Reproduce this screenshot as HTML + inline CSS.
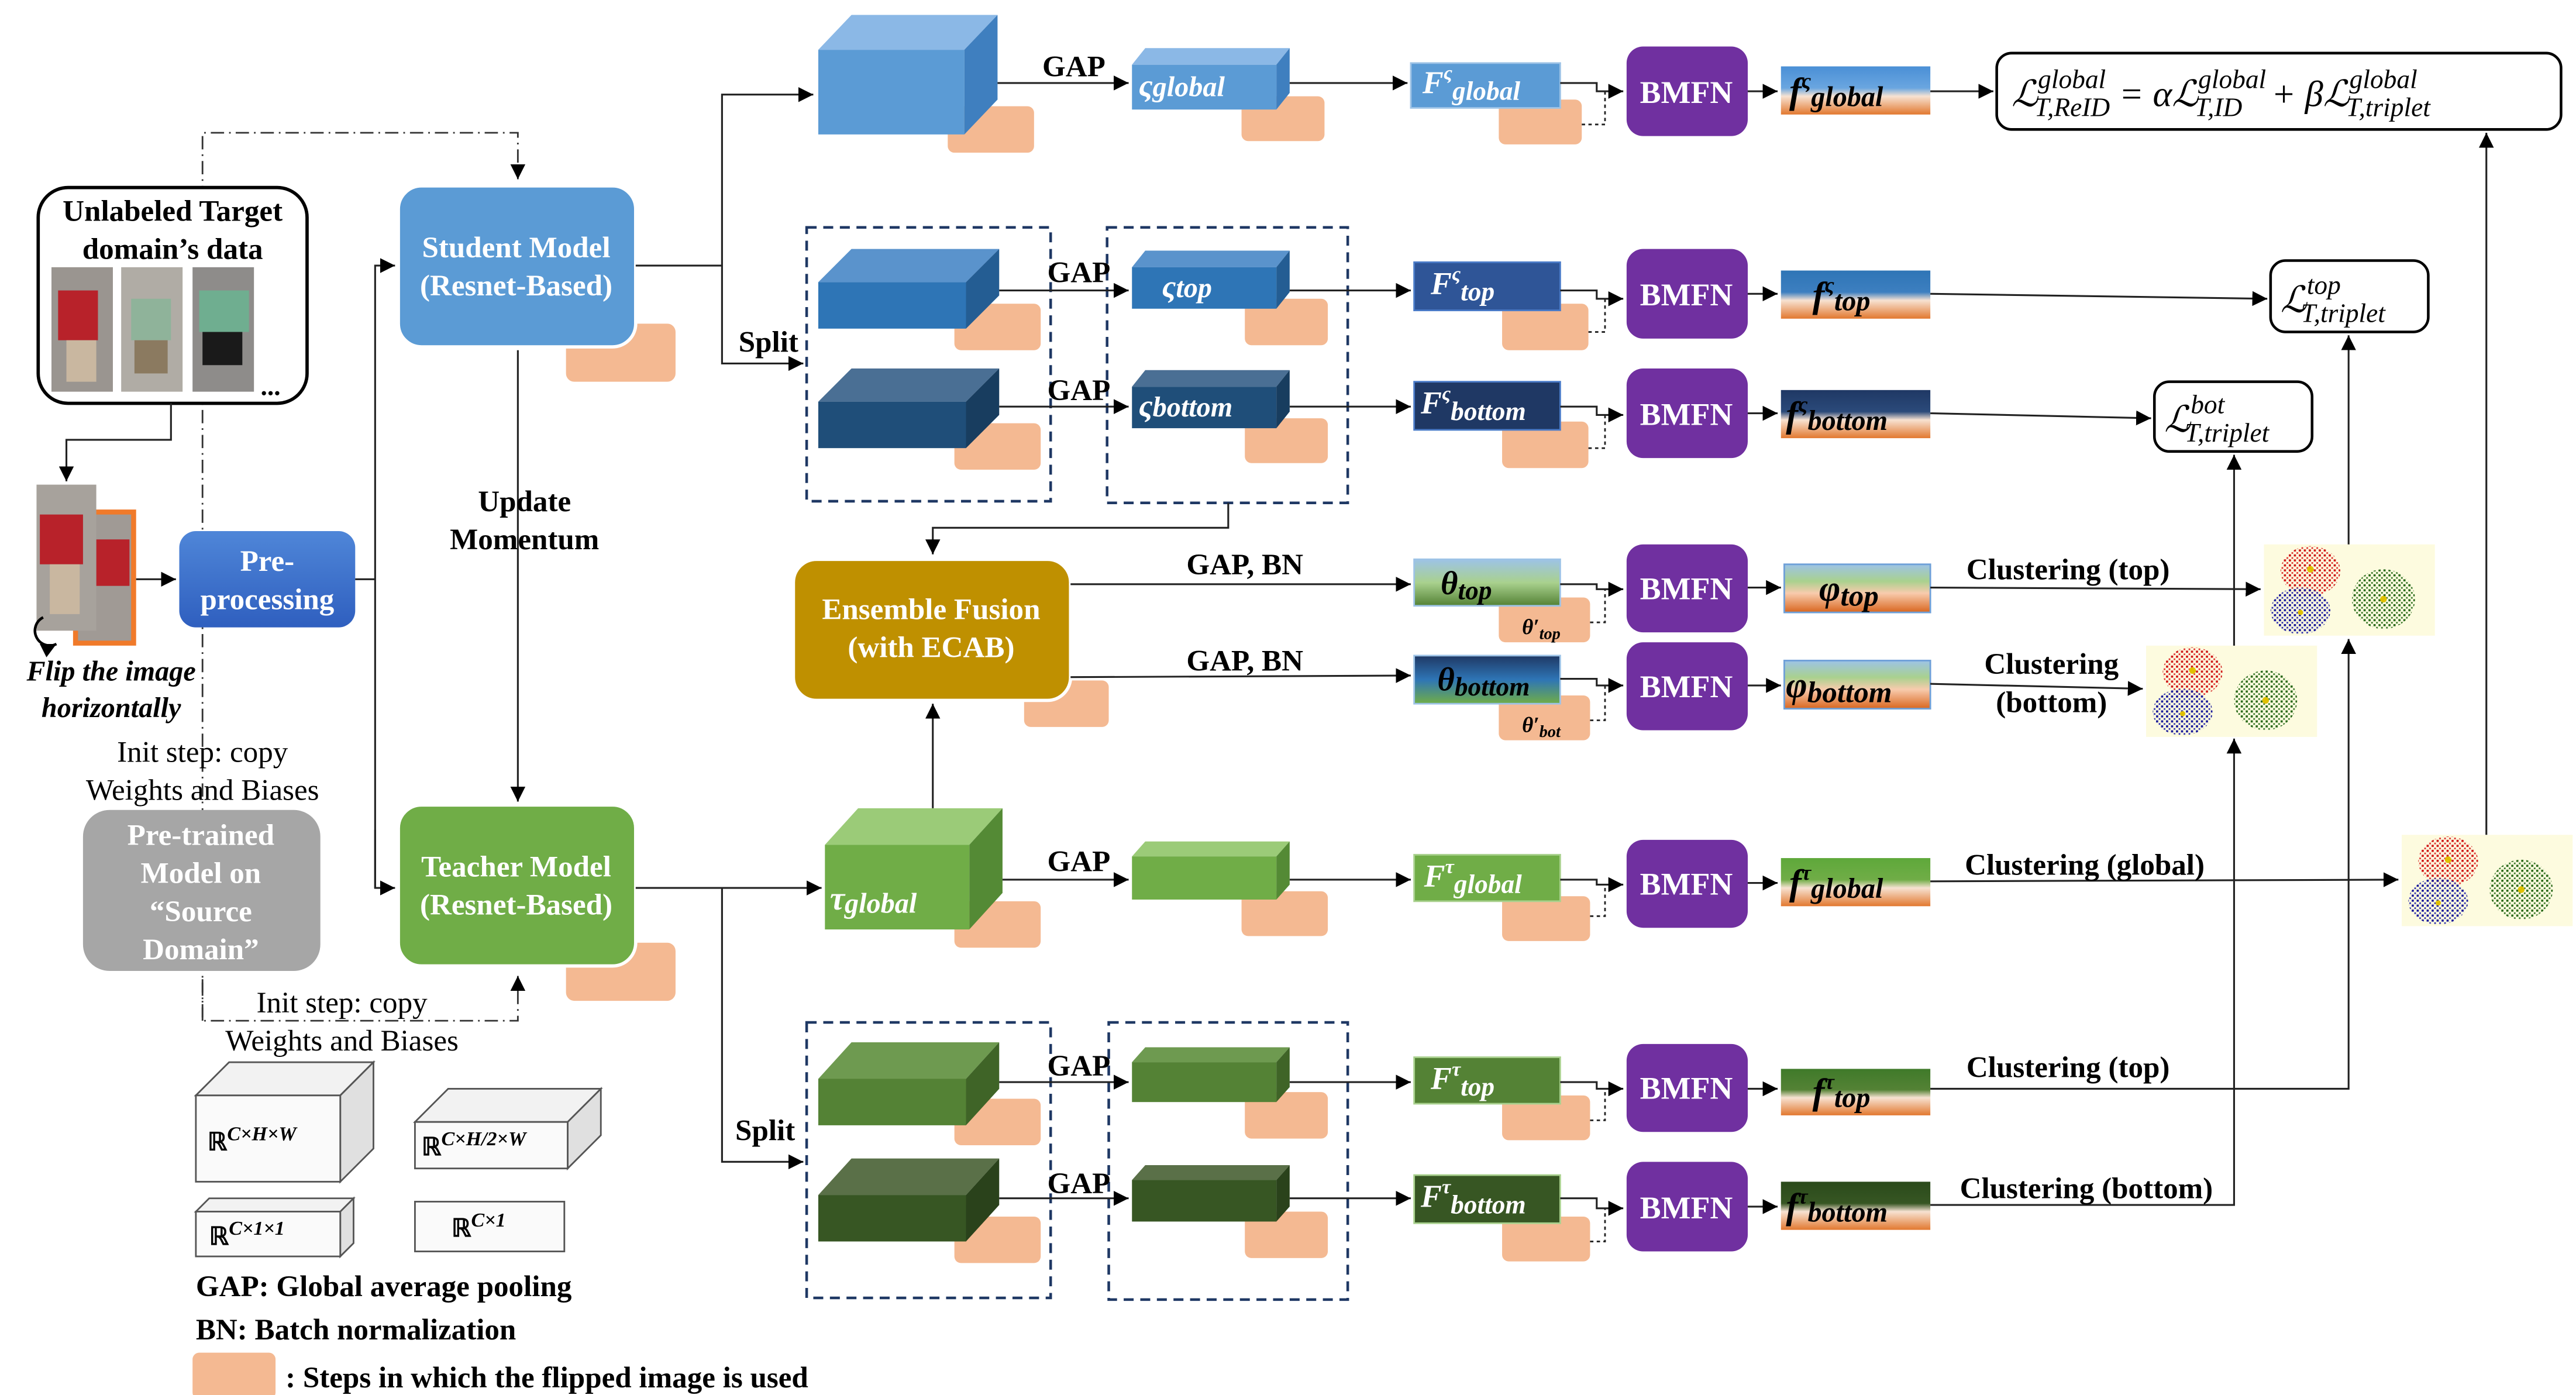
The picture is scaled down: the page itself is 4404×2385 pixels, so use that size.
<!DOCTYPE html>
<html><head><meta charset="utf-8"><style>
html,body{margin:0;padding:0;background:#fff;}
svg{display:block;}
text{font-family:"Liberation Serif",serif;}
.b{font-weight:bold;}
.w{fill:#fff;}
.m{font-style:italic;font-weight:bold;}
.ln{stroke:#222;stroke-width:1.1;fill:none;}
.dsh{stroke:#1f3864;stroke-width:1.6;fill:none;stroke-dasharray:6,4;}
.or{fill:#f4b992;}
</style></head><body>
<svg width="4404" height="2385" viewBox="0 0 1552 840.5" xmlns="http://www.w3.org/2000/svg">
<defs>
<marker id="a" viewBox="0 0 10 10" refX="10" refY="5" markerWidth="9" markerHeight="9" markerUnits="userSpaceOnUse" orient="auto"><path d="M0,0L10,5L0,10z" fill="#000"/></marker>
<linearGradient id="gB" x1="0" y1="0" x2="0" y2="1"><stop offset="0" stop-color="#4a8fd6"/><stop offset="0.45" stop-color="#6aa6e0"/><stop offset="0.62" stop-color="#f7e2d2"/><stop offset="1" stop-color="#e2782f"/></linearGradient>
<linearGradient id="gB2" x1="0" y1="0" x2="0" y2="1"><stop offset="0" stop-color="#2e75b6"/><stop offset="0.45" stop-color="#3d7fc0"/><stop offset="0.62" stop-color="#f7e2d2"/><stop offset="1" stop-color="#e2782f"/></linearGradient>
<linearGradient id="gB3" x1="0" y1="0" x2="0" y2="1"><stop offset="0" stop-color="#1f3864"/><stop offset="0.45" stop-color="#2b4a7a"/><stop offset="0.62" stop-color="#f7e2d2"/><stop offset="1" stop-color="#e2782f"/></linearGradient>
<linearGradient id="gG" x1="0" y1="0" x2="0" y2="1"><stop offset="0" stop-color="#5ea83a"/><stop offset="0.45" stop-color="#70ad47"/><stop offset="0.62" stop-color="#f7e2d2"/><stop offset="1" stop-color="#e2782f"/></linearGradient>
<linearGradient id="gG2" x1="0" y1="0" x2="0" y2="1"><stop offset="0" stop-color="#3f7a2a"/><stop offset="0.45" stop-color="#548235"/><stop offset="0.62" stop-color="#f7e2d2"/><stop offset="1" stop-color="#e2782f"/></linearGradient>
<linearGradient id="gG3" x1="0" y1="0" x2="0" y2="1"><stop offset="0" stop-color="#2a4a1b"/><stop offset="0.45" stop-color="#375623"/><stop offset="0.62" stop-color="#f7e2d2"/><stop offset="1" stop-color="#e2782f"/></linearGradient>
<linearGradient id="gP" x1="0" y1="0" x2="0" y2="1"><stop offset="0" stop-color="#9dc3e6"/><stop offset="0.35" stop-color="#a9d18e"/><stop offset="0.6" stop-color="#f8cbad"/><stop offset="1" stop-color="#d9661f"/></linearGradient>
<linearGradient id="gT1" x1="0" y1="0" x2="0" y2="1"><stop offset="0" stop-color="#9dc3e6"/><stop offset="0.5" stop-color="#a9d18e"/><stop offset="1" stop-color="#548235"/></linearGradient>
<linearGradient id="gT2" x1="0" y1="0" x2="0" y2="1"><stop offset="0" stop-color="#1f3864"/><stop offset="0.5" stop-color="#2e75b6"/><stop offset="1" stop-color="#70ad47"/></linearGradient>
<linearGradient id="gPre" x1="0" y1="0" x2="0" y2="1"><stop offset="0" stop-color="#4f86d8"/><stop offset="1" stop-color="#2f5fbf"/></linearGradient>
<pattern id="pr" width="3" height="3" patternUnits="userSpaceOnUse"><rect x="0" y="0" width="1.3" height="1.3" fill="#d01818"/><rect x="1.6" y="1.7" width="1" height="1" fill="#e03030"/></pattern>
<pattern id="pb" width="3" height="3" patternUnits="userSpaceOnUse"><rect x="0" y="0" width="1.3" height="1.3" fill="#1a1a9a"/><rect x="1.6" y="1.7" width="1" height="1" fill="#3030b0"/></pattern>
<pattern id="pg" width="3" height="3" patternUnits="userSpaceOnUse"><rect x="0" y="0" width="1.3" height="1.3" fill="#2a6a1a"/><rect x="1.6" y="1.7" width="1" height="1" fill="#3a7a2a"/></pattern>
<g id="sc">
<rect x="0" y="0" width="103" height="55" fill="#fdfbdf"/>
<ellipse cx="28" cy="16" rx="18" ry="15" fill="url(#pr)"/>
<ellipse cx="22" cy="40" rx="18" ry="14" fill="url(#pb)"/>
<ellipse cx="72" cy="33" rx="19" ry="18" fill="url(#pg)"/>
<circle cx="28" cy="15" r="2" fill="#e0c000"/><circle cx="72" cy="33" r="2" fill="#e0c000"/><circle cx="22" cy="41" r="1.6" fill="#e0c000"/>
</g>
</defs>

<path d="M122,615 L122,80 L312,80 L312,108" stroke="#333" stroke-width="1" fill="none" stroke-dasharray="8,3,1,3" marker-end="url(#a)"/>
<path d="M122,590 L122,615 L312,615 L312,588" stroke="#333" stroke-width="1" fill="none" stroke-dasharray="8,3,1,3" marker-end="url(#a)"/>

<rect x="23" y="113" width="162" height="130" rx="18" fill="#fff" stroke="#000" stroke-width="2"/>
<text x="104" y="133" font-size="18" class="b" text-anchor="middle">Unlabeled Target</text>
<text x="104" y="156" font-size="18" class="b" text-anchor="middle">domain’s data</text>
<rect x="31" y="161" width="37" height="75" fill="#9a9590"/><rect x="35" y="175" width="24" height="30" fill="#b8222a"/><rect x="40" y="205" width="18" height="25" fill="#c9b7a0"/>
<rect x="73" y="161" width="37" height="75" fill="#b0aca5"/><rect x="79" y="180" width="24" height="25" fill="#8fb39a"/><rect x="81" y="205" width="20" height="20" fill="#8b7a60"/>
<rect x="116" y="161" width="37" height="75" fill="#8e8c8a"/><rect x="120" y="175" width="30" height="25" fill="#6fae90"/><rect x="122" y="200" width="24" height="20" fill="#1a1a1a"/>
<text x="163" y="238" font-size="16" class="b" text-anchor="middle">...</text>
<path d="M103,243 L103,265 L40,265 L40,290" class="ln" marker-end="url(#a)"/>

<rect x="44" y="307" width="38" height="82" fill="#f07a2a"/>
<rect x="47" y="310" width="32" height="76" fill="#a09a95"/><rect x="58" y="325" width="20" height="28" fill="#b8222a"/>
<rect x="22" y="292" width="36" height="88" fill="#a7a29c"/><rect x="24" y="310" width="26" height="30" fill="#b8222a"/><rect x="30" y="340" width="18" height="30" fill="#c9b7a0"/>
<path d="M26,372 A7,7 0 1 0 34,388" stroke="#000" stroke-width="1.6" fill="none" marker-end="url(#a)"/>
<text x="67" y="410" font-size="17" class="b" font-style="italic" text-anchor="middle">Flip the image</text>
<text x="67" y="432" font-size="17" class="b" font-style="italic" text-anchor="middle">horizontally</text>
<path d="M82,349 L106,349" class="ln" marker-end="url(#a)"/>

<rect x="108" y="320" width="106" height="58" rx="10" fill="url(#gPre)"/>
<text x="161" y="344" font-size="18" class="b w" text-anchor="middle">Pre-</text>
<text x="161" y="367" font-size="18" class="b w" text-anchor="middle">processing</text>
<path d="M214,349 L226,349" class="ln"/>
<path d="M226,535 L226,160 L238,160" class="ln" marker-end="url(#a)"/>
<path d="M226,500 L226,535 L238,535" class="ln" marker-end="url(#a)"/>

<text x="122" y="459" font-size="18" text-anchor="middle">Init step: copy</text>
<text x="122" y="482" font-size="18" text-anchor="middle">Weights and Biases</text>

<rect x="50" y="488" width="143" height="97" rx="16" fill="#a6a6a6"/>
<text x="121" y="509" font-size="18" class="b w" text-anchor="middle">Pre-trained</text>
<text x="121" y="532" font-size="18" class="b w" text-anchor="middle">Model on</text>
<text x="121" y="555" font-size="18" class="b w" text-anchor="middle">“Source</text>
<text x="121" y="578" font-size="18" class="b w" text-anchor="middle">Domain”</text>
<text x="206" y="610" font-size="18" text-anchor="middle">Init step: copy</text>
<text x="206" y="633" font-size="18" text-anchor="middle">Weights and Biases</text>

<rect x="341" y="195" width="66" height="35" rx="5" class="or"/>
<rect x="240" y="112" width="143" height="97" rx="14" fill="#5b9bd5" stroke="#fff" stroke-width="2"/>
<text x="311" y="155" font-size="18" class="b w" text-anchor="middle">Student Model</text>
<text x="311" y="178" font-size="18" class="b w" text-anchor="middle">(Resnet-Based)</text>
<rect x="341" y="568" width="66" height="35" rx="5" class="or"/>
<rect x="240" y="485" width="143" height="97" rx="14" fill="#70ad47" stroke="#fff" stroke-width="2"/>
<text x="311" y="528" font-size="18" class="b w" text-anchor="middle">Teacher Model</text>
<text x="311" y="551" font-size="18" class="b w" text-anchor="middle">(Resnet-Based)</text>
<path d="M312,211 L312,483" class="ln" marker-end="url(#a)"/>
<text x="316" y="308" font-size="18" class="b" text-anchor="middle">Update</text>
<text x="316" y="331" font-size="18" class="b" text-anchor="middle">Momentum</text>

<path d="M383,160 L435,160 L435,57 L490,57" class="ln" marker-end="url(#a)"/>
<path d="M435,160 L435,219 L484,219" class="ln" marker-end="url(#a)"/>
<text x="463" y="212" font-size="18" class="b" text-anchor="middle">Split</text>
<path d="M383,535 L435,535 L495,535" class="ln" marker-end="url(#a)"/>
<path d="M435,535 L435,700 L484,700" class="ln" marker-end="url(#a)"/>
<text x="461" y="687" font-size="18" class="b" text-anchor="middle">Split</text>

<rect x="571" y="64" width="52" height="28" rx="4" class="or"/>
<polygon points="493,30 513,9 601,9 581,30" fill="#8bb8e6"/>
<polygon points="581,30 601,9 601,60 581,81" fill="#3f7fbf"/>
<rect x="493" y="30" width="88" height="51" fill="#5b9bd5"/>
<path d="M601,50 L680,50" class="ln" marker-end="url(#a)"/>
<text x="647" y="46" font-size="18" class="b" text-anchor="middle">GAP</text>
<rect x="748" y="58" width="50" height="27" rx="4" class="or"/>
<polygon points="682,39 690,29 777,29 769,39" fill="#8bb8e6"/>
<polygon points="769,39 777,29 777,56 769,66" fill="#3f7fbf"/>
<rect x="682" y="39" width="87" height="27" fill="#5b9bd5"/>
<text x="686" y="58" font-size="19" class="m w">ς<tspan font-size="17">global</tspan></text>
<path d="M777,50 L848,50" class="ln" marker-end="url(#a)"/>

<rect x="486" y="137" width="147" height="165" class="dsh"/>
<rect x="667" y="137" width="145" height="166" class="dsh"/>
<rect x="575" y="183" width="52" height="28" rx="4" class="or"/>
<polygon points="493,170 513,150 602,150 582,170" fill="#5a93cc"/>
<polygon points="582,170 602,150 602,178 582,198" fill="#245d93"/>
<rect x="493" y="170" width="89" height="28" fill="#2e75b6"/>
<rect x="575" y="255" width="52" height="28" rx="4" class="or"/>
<polygon points="493,242 513,222 602,222 582,242" fill="#4a6f94"/>
<polygon points="582,242 602,222 602,250 582,270" fill="#183d5f"/>
<rect x="493" y="242" width="89" height="28" fill="#1f4e79"/>
<path d="M602,175 L680,175" class="ln" marker-end="url(#a)"/>
<text x="650" y="170" font-size="18" class="b" text-anchor="middle">GAP</text>
<path d="M602,245 L680,245" class="ln" marker-end="url(#a)"/>
<text x="650" y="241" font-size="18" class="b" text-anchor="middle">GAP</text>
<rect x="750" y="180" width="50" height="28" rx="4" class="or"/>
<polygon points="682,161 690,151 777,151 769,161" fill="#5a93cc"/>
<polygon points="769,161 777,151 777,176 769,186" fill="#245d93"/>
<rect x="682" y="161" width="87" height="25" fill="#2e75b6"/>
<text x="700" y="179" font-size="19" class="m w">ς<tspan font-size="17">top</tspan></text>
<rect x="750" y="252" width="50" height="27" rx="4" class="or"/>
<polygon points="682,233 690,223 777,223 769,233" fill="#4a6f94"/>
<polygon points="769,233 777,223 777,248 769,258" fill="#183d5f"/>
<rect x="682" y="233" width="87" height="25" fill="#1f4e79"/>
<text x="686" y="251" font-size="19" class="m w">ς<tspan font-size="17">bottom</tspan></text>
<path d="M777,175 L850,175" class="ln" marker-end="url(#a)"/>
<path d="M777,245 L850,245" class="ln" marker-end="url(#a)"/>
<path d="M740,303 L740,318 L562,318 L562,334" class="ln" marker-end="url(#a)"/>

<g>
<rect x="903" y="60" width="50" height="27" rx="4" class="or"/>
<rect x="850" y="38" width="90" height="27" fill="#5b9bd5" stroke="#9dc3e6"/>
<text x="857" y="56" font-size="19" class="m w">F<tspan dy="-8" font-size="12">ς</tspan><tspan dy="12" font-size="16">global</tspan></text>
<rect x="905" y="183" width="52" height="28" rx="4" class="or"/>
<rect x="852" y="158" width="88" height="29" fill="#2f5597" stroke="#4a7bc8"/>
<text x="862" y="177" font-size="19" class="m w">F<tspan dy="-8" font-size="12">ς</tspan><tspan dy="12" font-size="16">top</tspan></text>
<rect x="905" y="254" width="52" height="28" rx="4" class="or"/>
<rect x="852" y="230" width="88" height="29" fill="#1f3864" stroke="#4a7bc8"/>
<text x="856" y="249" font-size="19" class="m w">F<tspan dy="-8" font-size="12">ς</tspan><tspan dy="12" font-size="16">bottom</tspan></text>
</g>

<rect x="617" y="410" width="51" height="28" rx="4" class="or"/>
<rect x="478" y="337" width="167" height="85" rx="14" fill="#bf9000" stroke="#fff" stroke-width="2"/>
<text x="561" y="373" font-size="18" class="b w" text-anchor="middle">Ensemble Fusion</text>
<text x="561" y="396" font-size="18" class="b w" text-anchor="middle">(with ECAB)</text>
<path d="M645,352 L850,352" class="ln" marker-end="url(#a)"/>
<text x="750" y="346" font-size="18" class="b" text-anchor="middle">GAP, BN</text>
<path d="M645,408 L850,407" class="ln" marker-end="url(#a)"/>
<text x="750" y="404" font-size="18" class="b" text-anchor="middle">GAP, BN</text>
<path d="M562,487 L562,424" class="ln" marker-end="url(#a)"/>

<rect x="903" y="360" width="55" height="27" rx="4" class="or"/>
<rect x="852" y="337" width="88" height="28" fill="url(#gT1)" stroke="#9dc3e6"/>
<text x="868" y="358" font-size="20" class="m">θ<tspan font-size="16" dy="3">top</tspan></text>
<text x="917" y="382" font-size="13" class="m">θ′<tspan font-size="10" dy="3">top</tspan></text>
<rect x="903" y="419" width="55" height="27" rx="4" class="or"/>
<rect x="852" y="395" width="88" height="29" fill="url(#gT2)" stroke="#9dc3e6"/>
<text x="866" y="416" font-size="20" class="m">θ<tspan font-size="16" dy="3">bottom</tspan></text>
<text x="917" y="441" font-size="13" class="m">θ′<tspan font-size="10" dy="3">bot</tspan></text>

<rect x="575" y="543" width="52" height="28" rx="4" class="or"/>
<polygon points="497,509 517,487 604,487 584,509" fill="#9bcb78"/>
<polygon points="584,509 604,487 604,538 584,560" fill="#548a35"/>
<rect x="497" y="509" width="87" height="51" fill="#70ad47"/>
<text x="500" y="548" font-size="20" class="m w">τ<tspan font-size="17" dy="2">global</tspan></text>
<path d="M604,530 L680,530" class="ln" marker-end="url(#a)"/>
<text x="650" y="525" font-size="18" class="b" text-anchor="middle">GAP</text>
<rect x="748" y="537" width="52" height="27" rx="4" class="or"/>
<polygon points="682,516 690,507 777,507 769,516" fill="#9bcb78"/>
<polygon points="769,516 777,507 777,533 769,542" fill="#548a35"/>
<rect x="682" y="516" width="87" height="26" fill="#70ad47"/>
<path d="M777,530 L850,530" class="ln" marker-end="url(#a)"/>
<rect x="905" y="540" width="53" height="27" rx="4" class="or"/>
<rect x="852" y="515" width="88" height="28" fill="#70ad47" stroke="#a9d18e"/>
<text x="858" y="534" font-size="19" class="m w">F<tspan dy="-8" font-size="12">τ</tspan><tspan dy="12" font-size="16">global</tspan></text>

<rect x="486" y="616" width="147" height="166" class="dsh"/>
<rect x="668" y="616" width="144" height="167" class="dsh"/>
<rect x="575" y="662" width="52" height="28" rx="4" class="or"/>
<polygon points="493,650 513,628 602,628 582,650" fill="#6e9a50"/>
<polygon points="582,650 602,628 602,656 582,678" fill="#3f6427"/>
<rect x="493" y="650" width="89" height="28" fill="#548235"/>
<rect x="575" y="733" width="52" height="28" rx="4" class="or"/>
<polygon points="493,720 513,698 602,698 582,720" fill="#5a7048"/>
<polygon points="582,720 602,698 602,726 582,748" fill="#2a421b"/>
<rect x="493" y="720" width="89" height="28" fill="#375623"/>
<path d="M602,652 L680,652" class="ln" marker-end="url(#a)"/>
<text x="650" y="648" font-size="18" class="b" text-anchor="middle">GAP</text>
<path d="M602,722 L680,722" class="ln" marker-end="url(#a)"/>
<text x="650" y="719" font-size="18" class="b" text-anchor="middle">GAP</text>
<rect x="750" y="658" width="50" height="28" rx="4" class="or"/>
<polygon points="682,640 690,631 777,631 769,640" fill="#6e9a50"/>
<polygon points="769,640 777,631 777,655 769,664" fill="#3f6427"/>
<rect x="682" y="640" width="87" height="24" fill="#548235"/>
<rect x="750" y="730" width="50" height="28" rx="4" class="or"/>
<polygon points="682,711 690,702 777,702 769,711" fill="#5a7048"/>
<polygon points="769,711 777,702 777,727 769,736" fill="#2a421b"/>
<rect x="682" y="711" width="87" height="25" fill="#375623"/>
<path d="M777,652 L850,652" class="ln" marker-end="url(#a)"/>
<path d="M777,722 L850,722" class="ln" marker-end="url(#a)"/>
<rect x="905" y="660" width="53" height="27" rx="4" class="or"/>
<rect x="852" y="637" width="88" height="28" fill="#548235" stroke="#a9d18e"/>
<text x="862" y="656" font-size="19" class="m w">F<tspan dy="-8" font-size="12">τ</tspan><tspan dy="12" font-size="16">top</tspan></text>
<rect x="905" y="733" width="53" height="27" rx="4" class="or"/>
<rect x="852" y="708" width="88" height="29" fill="#375623" stroke="#a9d18e"/>
<text x="856" y="727" font-size="19" class="m w">F<tspan dy="-8" font-size="12">τ</tspan><tspan dy="12" font-size="16">bottom</tspan></text>

<g class="ln">
<path d="M940,50 L962,50 L962,55 L978,55" marker-end="url(#a)"/>
<path d="M940,175 L962,175 L962,180 L978,180" marker-end="url(#a)"/>
<path d="M940,245 L962,245 L962,250 L978,250" marker-end="url(#a)"/>
<path d="M940,352 L962,352 L962,355 L978,355" marker-end="url(#a)"/>
<path d="M940,409 L962,409 L962,413 L978,413" marker-end="url(#a)"/>
<path d="M940,530 L962,530 L962,533 L978,533" marker-end="url(#a)"/>
<path d="M940,652 L962,652 L962,656 L978,656" marker-end="url(#a)"/>
<path d="M940,722 L962,722 L962,728 L978,728" marker-end="url(#a)"/>
</g>
<g stroke="#222" stroke-width="1" fill="none" stroke-dasharray="2,2">
<path d="M953,75 L967,75 L967,55"/><path d="M957,200 L967,200 L967,180"/><path d="M957,270 L967,270 L967,250"/>
<path d="M958,375 L967,375 L967,355"/><path d="M958,434 L967,434 L967,413"/><path d="M958,552 L967,552 L967,533"/>
<path d="M958,675 L967,675 L967,656"/><path d="M958,748 L967,748 L967,728"/>
</g>

<g fill="#7030a0">
<rect x="980" y="28" width="73" height="54" rx="10"/>
<rect x="980" y="150" width="73" height="54" rx="10"/>
<rect x="980" y="222" width="73" height="54" rx="10"/>
<rect x="980" y="328" width="73" height="53" rx="10"/>
<rect x="980" y="387" width="73" height="53" rx="10"/>
<rect x="980" y="506" width="73" height="53" rx="10"/>
<rect x="980" y="629" width="73" height="53" rx="10"/>
<rect x="980" y="700" width="73" height="54" rx="10"/>
</g>
<g font-size="19" class="b w" text-anchor="middle">
<text x="1016" y="62">BMFN</text><text x="1016" y="184">BMFN</text><text x="1016" y="256">BMFN</text>
<text x="1016" y="361">BMFN</text><text x="1016" y="420">BMFN</text><text x="1016" y="539">BMFN</text>
<text x="1016" y="662">BMFN</text><text x="1016" y="734">BMFN</text>
</g>
<g class="ln">
<path d="M1053,55 L1071,55" marker-end="url(#a)"/><path d="M1053,177 L1071,177" marker-end="url(#a)"/>
<path d="M1053,249 L1071,249" marker-end="url(#a)"/><path d="M1053,354 L1073,354" marker-end="url(#a)"/>
<path d="M1053,413 L1073,413" marker-end="url(#a)"/><path d="M1053,532 L1071,532" marker-end="url(#a)"/>
<path d="M1053,656 L1071,656" marker-end="url(#a)"/><path d="M1053,727 L1071,727" marker-end="url(#a)"/>
</g>

<rect x="1073" y="40" width="90" height="29" fill="url(#gB)"/>
<text x="1078" y="62" font-size="22" class="m">f<tspan dy="-9" font-size="13">ς</tspan><tspan dy="11" font-size="17">global</tspan></text>
<rect x="1073" y="163" width="90" height="29" fill="url(#gB2)"/>
<text x="1092" y="185" font-size="22" class="m">f<tspan dy="-9" font-size="13">ς</tspan><tspan dy="11" font-size="17">top</tspan></text>
<rect x="1073" y="235" width="90" height="29" fill="url(#gB3)"/>
<text x="1076" y="257" font-size="22" class="m">f<tspan dy="-9" font-size="13">ς</tspan><tspan dy="11" font-size="17">bottom</tspan></text>
<rect x="1075" y="340" width="88" height="29" fill="url(#gP)" stroke="#6fa0d8"/>
<text x="1096" y="362" font-size="22" class="m">φ<tspan dy="3" font-size="18">top</tspan></text>
<rect x="1075" y="398" width="88" height="29" fill="url(#gP)" stroke="#6fa0d8"/>
<text x="1076" y="420" font-size="22" class="m">φ<tspan dy="3" font-size="18">bottom</tspan></text>
<rect x="1073" y="517" width="90" height="29" fill="url(#gG)"/>
<text x="1078" y="539" font-size="22" class="m">f<tspan dy="-9" font-size="13">τ</tspan><tspan dy="11" font-size="17">global</tspan></text>
<rect x="1073" y="644" width="90" height="28" fill="url(#gG2)"/>
<text x="1092" y="665" font-size="22" class="m">f<tspan dy="-9" font-size="13">τ</tspan><tspan dy="11" font-size="17">top</tspan></text>
<rect x="1073" y="712" width="90" height="29" fill="url(#gG3)"/>
<text x="1076" y="734" font-size="22" class="m">f<tspan dy="-9" font-size="13">τ</tspan><tspan dy="11" font-size="17">bottom</tspan></text>

<rect x="1203" y="32" width="340" height="46" rx="9" fill="#fff" stroke="#000" stroke-width="1.6"/>
<text x="1212" y="64" font-size="22" font-style="italic">ℒ<tspan dy="-11" font-size="16">global</tspan><tspan dx="-43" dy="17" font-size="16">T,ReID</tspan><tspan dy="-6"> = αℒ</tspan><tspan dy="-11" font-size="16">global</tspan><tspan dx="-43" dy="17" font-size="16">T,ID</tspan><tspan dy="-6" dx="12"> + βℒ</tspan><tspan dy="-11" font-size="16">global</tspan><tspan dx="-43" dy="17" font-size="16">T,triplet</tspan></text>
<path d="M1163,55 L1201,55" class="ln" marker-end="url(#a)"/>
<rect x="1368" y="157" width="95" height="43" rx="9" fill="#fff" stroke="#000" stroke-width="1.6"/>
<text x="1374" y="188" font-size="22" font-style="italic">ℒ<tspan dy="-11" font-size="16">top</tspan><tspan dx="-24" dy="17" font-size="16">T,triplet</tspan></text>
<path d="M1163,177 L1366,180" class="ln" marker-end="url(#a)"/>
<rect x="1298" y="230" width="95" height="42" rx="9" fill="#fff" stroke="#000" stroke-width="1.6"/>
<text x="1304" y="260" font-size="22" font-style="italic">ℒ<tspan dy="-11" font-size="16">bot</tspan><tspan dx="-24" dy="17" font-size="16">T,triplet</tspan></text>
<path d="M1163,249 L1296,252" class="ln" marker-end="url(#a)"/>

<use href="#sc" x="1364" y="328"/>
<use href="#sc" x="1293" y="389"/>
<use href="#sc" x="1447" y="503"/>
<path d="M1163,354 L1362,355" class="ln" marker-end="url(#a)"/>
<text x="1246" y="349" font-size="18" class="b" text-anchor="middle">Clustering (top)</text>
<path d="M1163,412 L1291,415" class="ln" marker-end="url(#a)"/>
<text x="1236" y="406" font-size="18" class="b" text-anchor="middle">Clustering</text>
<text x="1236" y="429" font-size="18" class="b" text-anchor="middle">(bottom)</text>
<path d="M1163,531 L1445,530" class="ln" marker-end="url(#a)"/>
<text x="1256" y="527" font-size="18" class="b" text-anchor="middle">Clustering (global)</text>
<path d="M1163,656 L1415,656 L1415,385" class="ln" marker-end="url(#a)"/>
<text x="1246" y="649" font-size="18" class="b" text-anchor="middle">Clustering (top)</text>
<path d="M1163,726 L1346,726 L1346,445" class="ln" marker-end="url(#a)"/>
<text x="1257" y="722" font-size="18" class="b" text-anchor="middle">Clustering (bottom)</text>
<path d="M1346,389 L1346,274" class="ln" marker-end="url(#a)"/>
<path d="M1415,328 L1415,202" class="ln" marker-end="url(#a)"/>
<path d="M1498,503 L1498,80" class="ln" marker-end="url(#a)"/>

<polygon points="118,660 138,640 225,640 205,660" fill="#f2f2f2" stroke="#555"/>
<polygon points="205,660 225,640 225,692 205,712" fill="#e0e0e0" stroke="#555"/>
<rect x="118" y="660" width="87" height="52" fill="#fafafa" stroke="#555"/>
<text x="125" y="693" font-size="15" class="b">ℝ<tspan dy="-6" font-size="12" font-style="italic">C×H×W</tspan></text>
<polygon points="250,676 270,656 362,656 342,676" fill="#f2f2f2" stroke="#555"/>
<polygon points="342,676 362,656 362,684 342,704" fill="#e0e0e0" stroke="#555"/>
<rect x="250" y="676" width="92" height="28" fill="#fafafa" stroke="#555"/>
<text x="254" y="696" font-size="15" class="b">ℝ<tspan dy="-6" font-size="12" font-style="italic">C×H/2×W</tspan></text>
<polygon points="118,730 126,722 213,722 205,730" fill="#f2f2f2" stroke="#555"/>
<polygon points="205,730 213,722 213,749 205,757" fill="#e0e0e0" stroke="#555"/>
<rect x="118" y="730" width="87" height="27" fill="#fafafa" stroke="#555"/>
<text x="126" y="750" font-size="15" class="b">ℝ<tspan dy="-6" font-size="12" font-style="italic">C×1×1</tspan></text>
<rect x="250" y="724" width="90" height="30" fill="#fafafa" stroke="#555"/>
<text x="272" y="745" font-size="15" class="b">ℝ<tspan dy="-6" font-size="12" font-style="italic">C×1</tspan></text>
<text x="118" y="781" font-size="18" class="b">GAP: Global average pooling</text>
<text x="118" y="807" font-size="18" class="b">BN: Batch normalization</text>
<rect x="116" y="815" width="50" height="28" rx="4" class="or"/>
<text x="172" y="836" font-size="18" class="b">: Steps in which the flipped image is used</text>
</svg>
</body></html>
